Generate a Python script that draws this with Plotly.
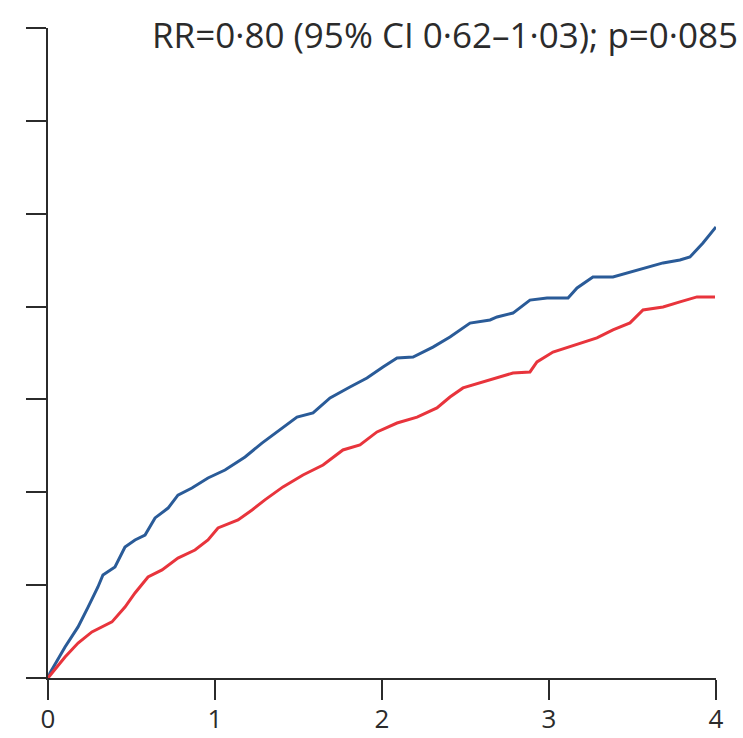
import plotly.graph_objects as go

# Years of follow-up and cumulative incidence (%)
blue_x = [0, 0.012, 0.102, 0.180, 0.240, 0.299, 0.329, 0.401, 0.461, 0.521, 0.581, 0.641,
          0.719, 0.778, 0.862, 0.958, 1.060, 1.180, 1.281, 1.389, 1.491, 1.587, 1.689,
          1.808, 1.910, 2.006, 2.090, 2.186, 2.305, 2.407, 2.527, 2.647, 2.689, 2.784,
          2.886, 2.988, 3.114, 3.168, 3.263, 3.383, 3.485, 3.587, 3.683, 3.784, 3.844,
          3.922, 4.0]
blue_y = [0, 0.27, 1.67, 2.75, 3.82, 4.90, 5.55, 5.98, 7.05, 7.43, 7.70, 8.62,
          9.15, 9.85, 10.23, 10.77, 11.20, 11.90, 12.65, 13.35, 14.05, 14.27, 15.08,
          15.67, 16.15, 16.75, 17.23, 17.28, 17.82, 18.36, 19.11, 19.28, 19.44, 19.65,
          20.35, 20.46, 20.46, 21.00, 21.59, 21.59, 21.86, 22.13, 22.35, 22.51, 22.67,
          23.42, 24.29]

red_x = [0, 0.102, 0.180, 0.263, 0.383, 0.461, 0.521, 0.599, 0.683, 0.778, 0.880, 0.958,
         1.018, 1.138, 1.222, 1.299, 1.407, 1.527, 1.647, 1.766, 1.868, 1.970, 2.090,
         2.210, 2.329, 2.407, 2.485, 2.587, 2.689, 2.784, 2.886, 2.928, 3.024, 3.186,
         3.287, 3.383, 3.485, 3.563, 3.683, 3.784, 3.886, 3.994]
red_y = [0, 1.13, 1.88, 2.48, 3.02, 3.82, 4.58, 5.44, 5.82, 6.46, 6.89, 7.43,
         8.08, 8.51, 9.05, 9.59, 10.29, 10.93, 11.47, 12.28, 12.55, 13.25, 13.73,
         14.05, 14.54, 15.13, 15.62, 15.89, 16.15, 16.42, 16.48, 17.02, 17.55, 18.04,
         18.31, 18.74, 19.12, 19.82, 19.98, 20.25, 20.52, 20.52]

x_ticks = [0, 1, 2, 3, 4]
y_ticks = [0, 5, 10, 15, 20, 25, 30, 35]
annotation_text = "RR=0·80 (95% CI 0·62–1·03); p=0·085"

FONT = "Open Sans"
INK = "#2b2b2b"

fig = go.Figure()
fig.add_trace(go.Scatter(x=blue_x, y=blue_y, mode="lines",
                         line=dict(color="#2a5b98", width=3), showlegend=False))
fig.add_trace(go.Scatter(x=red_x, y=red_y, mode="lines",
                         line=dict(color="#e8343c", width=3), showlegend=False))

fig.add_annotation(x=0.611, xref="x", y=1.0, yref="paper", text=annotation_text,
                   showarrow=False, xanchor="left", yanchor="middle", yshift=-6,
                   font=dict(family=FONT, size=35, color=INK))

fig.update_layout(
    width=743, height=738,
    margin=dict(l=48, r=27, t=28, b=60),
    paper_bgcolor="white", plot_bgcolor="white",
    xaxis=dict(range=[0, 4], tickvals=x_ticks, ticks="outside", ticklen=20, tickwidth=2,
               tickcolor=INK, showline=True, linewidth=2, linecolor=INK,
               showgrid=False, zeroline=False, automargin=False, ticklabelstandoff=-3,
               tickfont=dict(family=FONT, size=26, color=INK)),
    yaxis=dict(range=[0, 35], tickvals=y_ticks, ticks="outside", ticklen=20, tickwidth=2,
               tickcolor=INK, showline=True, linewidth=2, linecolor=INK,
               showgrid=False, zeroline=False, showticklabels=False, automargin=False),
)

fig.write_html("out.html")
